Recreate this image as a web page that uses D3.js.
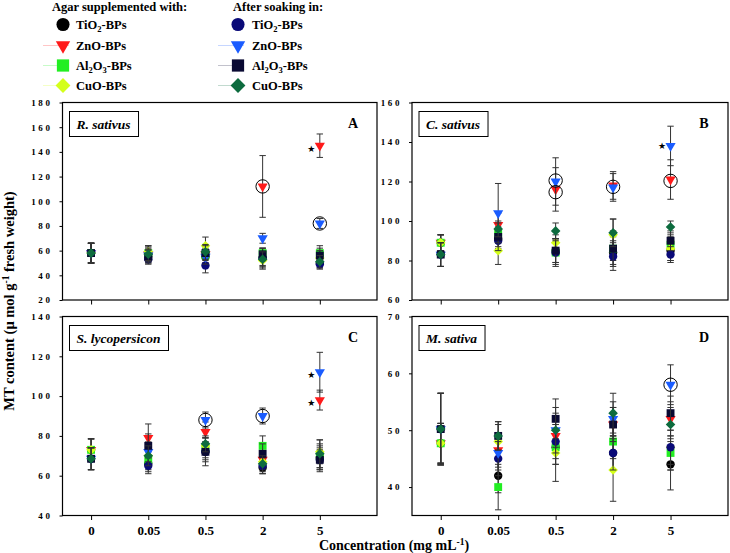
<!DOCTYPE html>
<html>
<head>
<meta charset="utf-8">
<script src="https://cdn.jsdelivr.net/npm/d3@7"></script>
<style>
  body { margin: 0; background: #fff; }
  svg { display: block; font-family: "Liberation Serif", "Times New Roman", serif; }
</style>
</head>
<body>
<svg id="chart" width="730" height="553"></svg>
<script>
// concentrations on the x axis
var concLabels = ["0", "0.05", "0.5", "2", "5"];

// series: 4 agar-supplemented + 4 after-soaking
var seriesLabels = ["TiO2", "ZnO", "Al2O3", "CuO", "TiO2", "ZnO", "Al2O3", "CuO"];
var seriesColors = ["#000000", "#ff1a1a", "#22ee22", "#d4ff1a", "#0a0a78", "#1a5cff", "#0a0a33", "#0d6b3e"];
var seriesShapes = ["circle", "tri", "square", "diamond", "circle", "tri", "square", "diamond"];

var panelNames = ["R. sativus", "C. sativus", "S. lycopersicon", "M. sativa"];
var panelLetters = ["A", "B", "C", "D"];
var yDomains = [[20, 180], [60, 160], [40, 140], [35, 70]];
var yTickVals = [
  [20, 40, 60, 80, 100, 120, 140, 160, 180],
  [60, 80, 100, 120, 140, 160],
  [40, 60, 80, 100, 120, 140],
  [40, 50, 60, 70]
];

// MT content, one row per series (order as seriesLabels)
var valuesA = [
  [58, 55, 55, 54, 50],
  [58, 57, 57, 112, 145],
  [58, 58, 56, 58, 58],
  [58, 59, 64, 52, 54],
  [58, 53, 48, 54, 49],
  [58, 56, 55, 70, 82],
  [58, 55, 58, 57, 56],
  [58, 57, 59, 53, 51]
];
var errorsA = [
  [8, 5, 6, 6, 4],
  [8, 6, 7, 25, 9.5],
  [8, 6, 6, 4, 6],
  [8, 5, 7, 7, 6],
  [8, 4, 6, 8, 4],
  [8, 5, 6, 4, 4],
  [8, 5, 6, 5, 6],
  [8, 5, 6, 6, 5]
];
var valuesB = [
  [89, 91, 85, 84, 85],
  [89, 98, 116, 118, 121],
  [89, 94, 84, 86, 88],
  [89, 85, 89, 93, 86],
  [83, 90, 84, 82, 83],
  [83, 104, 120, 117, 138],
  [83, 92, 85, 86, 90],
  [83, 96, 95, 94, 97]
];
var errorsB = [
  [4, 5, 6, 6, 5],
  [4, 6, 11, 7, 10],
  [4, 5, 7, 6, 5],
  [4, 7, 4, 8, 6],
  [6, 5, 6, 7, 4],
  [6, 15, 12, 7, 10],
  [6, 5, 6, 9, 5],
  [6, 4, 4, 7, 3]
];
var valuesC = [
  [73, 66, 72, 64, 69],
  [73, 79, 82, 68, 98],
  [73, 68, 74, 75, 70],
  [73, 70, 75, 67, 72],
  [68.5, 65, 72, 65, 68],
  [68.5, 72, 88, 90, 112],
  [68.5, 75, 72, 71, 68],
  [68.5, 70, 76, 66, 71]
];
var errorsC = [
  [5.5, 4, 7, 3, 6],
  [5.5, 7, 5, 4, 5],
  [5.5, 5, 5, 5, 6],
  [5.5, 4, 4, 4, 6],
  [5.5, 4, 4, 4, 6],
  [5.5, 5, 4, 4, 10],
  [5.5, 6, 5, 5, 5],
  [5.5, 5, 4, 4, 7]
];
var valuesD = [
  [47.7, 42, 47, 46, 44],
  [47.7, 46.5, 49, 51, 52],
  [47.7, 40, 47, 48, 46],
  [47.7, 48, 46, 43, 47],
  [50.2, 45, 48, 46, 47],
  [50.2, 46, 50, 52, 58],
  [50.2, 49, 52, 51, 53],
  [50.2, 49, 50, 53, 51]
];
var errorsD = [
  [3.5, 3, 3, 3, 4.5],
  [3.5, 3, 3, 3, 3],
  [3.5, 4, 3, 3, 3],
  [3.5, 3, 5, 5.5, 4],
  [6.3, 3, 3, 3, 3],
  [6.3, 3, 4, 3, 3.5],
  [6.3, 2.5, 3.5, 3, 3],
  [6.3, 2.5, 3, 3.5, 3]
];
var panelValues = [valuesA, valuesB, valuesC, valuesD];
var panelErrors = [errorsA, errorsB, errorsC, errorsD];

// significance marks: [panel, concentration index, value]
var circleMarks = [[0, 3, 112], [0, 4, 82], [1, 2, 120.5], [1, 2, 114.6], [1, 3, 117.3], [1, 4, 120.3], [2, 2, 88], [2, 3, 90], [3, 4, 58]];
var starMarks = [[0, 4, 143], [1, 4, 138], [2, 4, 111], [2, 4, 97]];

var svg = d3.select("#chart");

// panel boxes
var cols = [[62.5, 377], [412, 728]];
var rows = [[102.5, 300], [316.5, 515.5]];

function symbolFor(shape, size) {
  var t = d3.symbolCircle;
  if (shape == "tri") t = d3.symbolTriangle;
  if (shape == "square") t = d3.symbolSquare;
  if (shape == "diamond") t = d3.symbolSquare;
  return d3.symbol().type(t).size(size)();
}
function rot(shape) {
  if (shape == "tri") return " rotate(180)";
  if (shape == "diamond") return " rotate(45)";
  return "";
}
var markSize = {circle: 55, tri: 45, square: 62, diamond: 46};
var legSize = {circle: 135, tri: 90, square: 150, diamond: 110};

panelNames.forEach(function(name, p) {
  var c = cols[p % 2], r = rows[Math.floor(p / 2)];
  var x = d3.scaleLinear().domain([-0.5, 5]).range(c);
  var y = d3.scaleLinear().domain(yDomains[p]).range([r[1], r[0]]);
  var g = svg.append("g");

  g.append("rect")
    .attr("x", c[0]).attr("y", r[0])
    .attr("width", c[1] - c[0]).attr("height", r[1] - r[0])
    .attr("fill", "none").attr("stroke", "#000").attr("stroke-width", 1.2);

  var yAxis = g.append("g")
    .attr("transform", "translate(" + c[0] + ",0)")
    .call(d3.axisLeft(y).tickValues(yTickVals[p]).tickSize(3).tickPadding(7).tickSizeOuter(0));
  yAxis.select(".domain").remove();
  yAxis.selectAll("text")
    .attr("font-family", "Liberation Serif").attr("font-weight", "bold")
    .attr("font-size", 9).attr("letter-spacing", "2.6px").attr("fill", "#000");

  var xAxis = g.append("g")
    .attr("transform", "translate(0," + r[1] + ")")
    .call(d3.axisBottom(x).tickValues([0, 1, 2, 3, 4]).tickSize(4.5).tickPadding(6)
      .tickSizeOuter(0)
      .tickFormat(function(i) { return p >= 2 ? concLabels[i] : ""; }));
  xAxis.select(".domain").remove();
  xAxis.selectAll("text")
    .attr("font-family", "Liberation Serif").attr("font-weight", "bold")
    .attr("font-size", 13).attr("fill", "#000");

  // species box
  var bx = c[0] + 7, by = r[0] + 9;
  var boxRect = g.append("rect");
  var lab = g.append("text")
    .attr("x", bx + 7).attr("y", by + 17)
    .attr("font-weight", "bold").attr("font-style", "italic")
    .attr("font-size", 13.5).text(name);
  var w = lab.node().getComputedTextLength();
  boxRect
    .attr("x", bx).attr("y", by).attr("width", w + 15).attr("height", 25)
    .attr("fill", "#fff").attr("stroke", "#000").attr("stroke-width", 1);

  g.append("text")
    .attr("x", c[1] - 24).attr("y", r[0] + 25)
    .attr("text-anchor", "middle").attr("font-weight", "bold").attr("font-size", 14)
    .text(panelLetters[p]);

  // series: error bars then markers
  panelValues[p].forEach(function(vals, s) {
    var errs = panelErrors[p][s];
    var sg = g.append("g");
    var pts = vals.map(function(v, i) { return {i: i, v: v, e: errs[i]}; });
    sg.selectAll("path.eb").data(pts).enter().append("path")
      .attr("class", "eb")
      .attr("d", function(d) {
        var xx = x(d.i), y1 = y(d.v + d.e), y0 = y(d.v - d.e);
        return "M" + xx + "," + y0 + "V" + y1 +
          "M" + (xx - 3.2) + "," + y1 + "H" + (xx + 3.2) +
          "M" + (xx - 3.2) + "," + y0 + "H" + (xx + 3.2);
      })
      .attr("stroke", "#333").attr("stroke-width", 1).attr("fill", "none");
    sg.selectAll("path.mk").data(pts).enter().append("path")
      .attr("class", "mk")
      .attr("d", symbolFor(seriesShapes[s], markSize[seriesShapes[s]]))
      .attr("transform", function(d) {
        return "translate(" + x(d.i) + "," + y(d.v) + ")" + rot(seriesShapes[s]);
      })
      .attr("fill", seriesColors[s]);
  });

  g.selectAll("circle.sig").data(circleMarks.filter(function(m) { return m[0] == p; }))
    .enter().append("circle")
    .attr("cx", function(m) { return x(m[1]); })
    .attr("cy", function(m) { return y(m[2]); })
    .attr("r", 6.7).attr("fill", "none").attr("stroke", "#000").attr("stroke-width", 1);

  g.selectAll("text.star").data(starMarks.filter(function(m) { return m[0] == p; }))
    .enter().append("text")
    .attr("x", function(m) { return x(m[1]) - 8.5; })
    .attr("y", function(m) { return y(m[2]) + 3.5; })
    .attr("text-anchor", "middle").attr("font-family", "DejaVu Sans").attr("font-size", 9)
    .text("\u2605");
});

// axis titles
var yt = svg.append("text")
  .attr("transform", "translate(14,301) rotate(-90)")
  .attr("text-anchor", "middle").attr("font-weight", "bold").attr("font-size", 14.5);
yt.append("tspan").text("MT content (\u03bc mol g");
yt.append("tspan").attr("dy", -5).attr("font-size", 9.5).text("-1");
yt.append("tspan").attr("dy", 5).text(" fresh weight)");

var xt = svg.append("text")
  .attr("x", 394).attr("y", 549.5)
  .attr("text-anchor", "middle").attr("font-weight", "bold").attr("font-size", 14);
xt.append("tspan").text("Concentration (mg mL");
xt.append("tspan").attr("dy", -5).attr("font-size", 9.5).text("-1");
xt.append("tspan").attr("dy", 5).text(")");

// legend
var legHeads = ["Agar supplemented with:", "After soaking in:"];
var legX = [[52, 63, 76], [233, 238, 252]];
var legRowY = [24.5, 45.5, 65.5, 85.5];
legHeads.forEach(function(h, k) {
  svg.append("text").attr("x", legX[k][0]).attr("y", 11)
    .attr("font-weight", "bold").attr("font-size", 12.5).text(h);
});
seriesLabels.forEach(function(lbl, s) {
  var k = s < 4 ? 0 : 1, row = s % 4;
  var lx = legX[k][1], ly = legRowY[row];
  if (row > 0) {
    svg.append("line").attr("x1", lx - 20).attr("x2", lx + 6)
      .attr("y1", ly).attr("y2", ly)
      .attr("stroke", seriesColors[s]).attr("stroke-opacity", 0.25).attr("stroke-width", 1);
  }
  svg.append("path")
    .attr("d", symbolFor(seriesShapes[s], legSize[seriesShapes[s]]))
    .attr("transform", "translate(" + lx + "," + ly + ")" + rot(seriesShapes[s]))
    .attr("fill", seriesColors[s]);
  var t = svg.append("text").attr("x", legX[k][2]).attr("y", ly + 4.5)
    .attr("font-weight", "bold").attr("font-size", 12.5);
  // split chemical formula into normal text and subscript digits
  var parts = lbl.match(/[A-Za-z]+|\d+/g);
  var sub = false;
  parts.forEach(function(pt) {
    if (/\d/.test(pt)) {
      t.append("tspan").attr("dy", 3).attr("font-size", 8.5).text(pt);
      sub = true;
    } else {
      t.append("tspan").attr("dy", sub ? -3 : 0).text(pt);
      sub = false;
    }
  });
  t.append("tspan").attr("dy", sub ? -3 : 0).text("-BPs");
});
</script>
</body>
</html>
